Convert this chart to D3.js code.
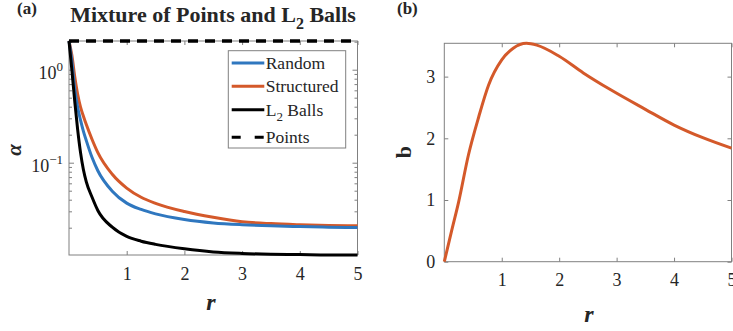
<meta charset="UTF-8">
<script src="https://cdn.jsdelivr.net/npm/d3@7"></script>
<style>
 body { margin:0; background:#fff; }
 svg text { fill:#262626; }
 .domain { stroke:#808080; }
 .tick line { stroke:#808080; }
</style>
<svg id="chart" width="733" height="331" font-family="Liberation Serif"></svg>
<script>
 // panel (a) : alpha vs r (log scale)
 var rA = [0, 0.05, 0.1, 0.15, 0.2, 0.25, 0.3, 0.4, 0.5, 0.75, 1, 1.25, 1.5, 2, 2.5, 3, 3.5, 4, 4.5, 5];
 var random = [2.06, 1.25, 0.62, 0.40, 0.29, 0.22, 0.175, 0.115, 0.083, 0.050, 0.0372, 0.0318, 0.0285, 0.0248, 0.0228, 0.0218, 0.0212, 0.0208, 0.0205, 0.0203];
 var structured = [2.06, 1.45, 0.85, 0.55, 0.40, 0.32, 0.26, 0.18, 0.13, 0.076, 0.054, 0.043, 0.037, 0.0302, 0.0262, 0.0235, 0.0224, 0.0218, 0.0214, 0.0212];
 var l2Balls = [2.06, 1.0, 0.46, 0.23, 0.13, 0.085, 0.063, 0.043, 0.031, 0.0205, 0.0163, 0.0145, 0.0134, 0.0120, 0.0111, 0.0107, 0.0105, 0.0104, 0.0103, 0.0103];
 var points = [2.06, 2.06];
 var rPoints = [0, 5];

 // panel (b) : b vs r
 var rB = [0, 0.125, 0.25, 0.42, 0.6, 0.77, 1, 1.2, 1.43, 1.61, 2, 2.42, 2.89, 3.5, 4, 4.5, 5];
 var bVals = [0, 0.49, 0.97, 1.73, 2.35, 2.86, 3.27, 3.46, 3.54, 3.51, 3.33, 3.06, 2.79, 2.47, 2.215, 2.01, 1.84];

 var xTicks = [1, 2, 3, 4, 5];
 var logMajor = [0.1, 1];
 var logMinor = [0.02,0.03,0.04,0.05,0.06,0.07,0.08,0.09,0.2,0.3,0.4,0.5,0.6,0.7,0.8,0.9,2];
 var bTicks = [0, 1, 2, 3];

 var blue = "#2f77bf", orange = "#d4592a";
 var serif = "Liberation Serif";
 var svg = d3.select("#chart");

 // ---------- panel (a)
 var xa = d3.scaleLinear().domain([0,5]).range([69,357.5]);
 var ya = d3.scaleLog().domain([0.0103,2.06]).range([255,41]);

 var ga = svg.append("g");
 // box
 ga.append("rect").attr("x",xa(0)).attr("y",ya(2.06)).attr("width",xa(5)-xa(0)).attr("height",ya(0.0103)-ya(2.06))
   .attr("fill","none").attr("stroke","#808080").attr("stroke-width",1);

 ga.append("g").attr("transform","translate(0,"+ya(0.0103)+")")
   .call(d3.axisBottom(xa).tickValues(xTicks).tickSize(-4).tickPadding(12).tickFormat(d3.format("d")))
   .call(function(g){ g.select(".domain").remove(); g.selectAll("text").attr("font-size",18); });
 ga.append("g").attr("transform","translate(0,"+ya(2.06)+")")
   .call(d3.axisTop(xa).tickValues(xTicks).tickSize(-4).tickFormat(""))
   .call(function(g){ g.select(".domain").remove(); });

 // log y ticks, left and right
 [[xa(0),1],[xa(5),-1]].forEach(function(s){
   var g = ga.append("g");
   g.selectAll("line.maj").data(logMajor).enter().append("line")
    .attr("x1",s[0]).attr("x2",s[0]+5*s[1]).attr("y1",ya).attr("y2",ya).attr("stroke","#808080");
   g.selectAll("line.min").data(logMinor).enter().append("line")
    .attr("x1",s[0]).attr("x2",s[0]+3*s[1]).attr("y1",ya).attr("y2",ya).attr("stroke","#808080");
 });
 var yl = ga.selectAll("text.ylab").data(logMajor).enter().append("text")
   .attr("x",63).attr("y",function(d){return ya(d)+9;}).attr("text-anchor","end").attr("font-size",18);
 yl.append("tspan").text("10");
 yl.append("tspan").attr("dy",-8).attr("font-size",13).text(function(d){return d3.format("d")(Math.log10(d));});

 var lineA = function(vals, xs){
   return d3.line().x(function(d,i){return xa(xs[i]);}).y(function(d){return ya(d);}).curve(d3.curveMonotoneX)(vals);
 };
 ga.append("path").attr("d",lineA(structured,rA)).attr("fill","none").attr("stroke",orange).attr("stroke-width",3);
 ga.append("path").attr("d",lineA(random,rA)).attr("fill","none").attr("stroke",blue).attr("stroke-width",3);
 ga.append("path").attr("d",lineA(l2Balls,rA)).attr("fill","none").attr("stroke","#000").attr("stroke-width",3);
 ga.append("path").attr("d",lineA(points,rPoints)).attr("fill","none").attr("stroke","#000").attr("stroke-width",3.5)
   .attr("stroke-dasharray","10,7");

 // legend
 var leg = ga.append("g");
 leg.append("rect").attr("x",228.3).attr("y",50.7).attr("width",117.4).attr("height",97.3)
    .attr("fill","#fff").attr("stroke","#808080");
 var items = [
   {name:"Random", color:blue, dash:null, y:63},
   {name:"Structured", color:orange, dash:null, y:86.3},
   {name:"L", sub:"2", rest:" Balls", color:"#000", dash:null, y:109.7},
   {name:"Points", color:"#000", dash:"9,14", y:137.3}
 ];
 items.forEach(function(it){
   leg.append("line").attr("x1",231.7).attr("x2",264.3).attr("y1",it.y).attr("y2",it.y)
      .attr("stroke",it.color).attr("stroke-width",3).attr("stroke-dasharray",it.dash);
   var t = leg.append("text").attr("x",265.7).attr("y",it.y+6).attr("font-size",17.5);
   t.append("tspan").text(it.name);
   if (it.sub) {
     t.append("tspan").attr("dy",5).attr("font-size",13).text(it.sub);
     t.append("tspan").attr("dy",-5).text(it.rest);
   }
 });

 // titles and labels
 svg.append("text").attr("x",17).attr("y",14).attr("font-size",17).attr("font-weight","bold").text("(a)");
 var tt = svg.append("text").attr("x",213).attr("y",22).attr("text-anchor","middle")
   .attr("font-size",22).attr("font-weight","bold");
 tt.append("tspan").text("Mixture of Points and L");
 tt.append("tspan").attr("dy",7).attr("font-size",16).text("2");
 tt.append("tspan").attr("dy",-7).text(" Balls");
 svg.append("text").attr("transform","translate(21,150) rotate(-90)").attr("text-anchor","middle")
   .attr("font-size",21).attr("font-weight","bold").attr("font-style","italic").text("α");
 svg.append("text").attr("x",211).attr("y",310).attr("text-anchor","middle")
   .attr("font-size",24).attr("font-weight","bold").attr("font-style","italic").text("r");

 // ---------- panel (b)
 var xb = d3.scaleLinear().domain([0,5]).range([444.3,731.5]);
 var yb = d3.scaleLinear().domain([0,3.54]).range([261.7,43.3]);
 var gb = svg.append("g");
 gb.append("rect").attr("x",xb(0)).attr("y",yb(3.54)).attr("width",xb(5)-xb(0)).attr("height",yb(0)-yb(3.54))
   .attr("fill","none").attr("stroke","#808080");
 gb.append("g").attr("transform","translate(0,"+yb(0)+")")
   .call(d3.axisBottom(xb).tickValues(xTicks).tickSize(-4).tickPadding(12).tickFormat(d3.format("d")))
   .call(function(g){ g.select(".domain").remove(); g.selectAll("text").attr("font-size",18); });
 gb.append("g").attr("transform","translate(0,"+yb(3.54)+")")
   .call(d3.axisTop(xb).tickValues(xTicks).tickSize(-4).tickFormat(""))
   .call(function(g){ g.select(".domain").remove(); });
 gb.append("g").attr("transform","translate("+xb(0)+",0)")
   .call(d3.axisLeft(yb).tickValues(bTicks).tickSize(-4).tickPadding(9).tickFormat(d3.format("d")))
   .call(function(g){ g.select(".domain").remove(); g.selectAll("text").attr("font-size",18); });
 gb.append("g").attr("transform","translate("+xb(5)+",0)")
   .call(d3.axisRight(yb).tickValues(bTicks).tickSize(-4).tickFormat(""))
   .call(function(g){ g.select(".domain").remove(); });

 gb.append("path")
   .attr("d", d3.line().x(function(d,i){return xb(rB[i]);}).y(function(d){return yb(d);}).curve(d3.curveMonotoneX)(bVals))
   .attr("fill","none").attr("stroke",orange).attr("stroke-width",3);

 svg.append("text").attr("x",397).attr("y",14).attr("font-size",17).attr("font-weight","bold").text("(b)");
 svg.append("text").attr("transform","translate(411,152) rotate(-90)").attr("text-anchor","middle")
   .attr("font-size",22).attr("font-weight","bold").text("b");
 svg.append("text").attr("x",589).attr("y",322).attr("text-anchor","middle")
   .attr("font-size",24).attr("font-weight","bold").attr("font-style","italic").text("r");

 // serif everywhere (axes default to sans-serif)
 svg.selectAll("g").attr("font-family",serif);
 svg.selectAll("text").attr("font-family",serif).attr("fill","#262626");
</script>
